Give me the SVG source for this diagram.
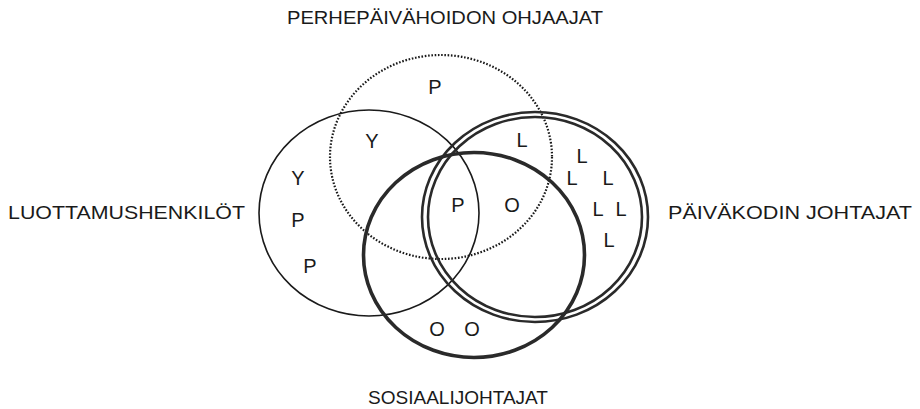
<svg xmlns="http://www.w3.org/2000/svg" width="920" height="409" viewBox="0 0 920 409">
<style>
  text { font-family: "Liberation Sans", Arial, sans-serif; fill: #1a1a1a; }
  .lab { font-size: 18.5px; }
  .m { font-size: 20px; text-anchor: middle; }
  .e { fill: none; stroke: #1a1a1a; }
  .thin { stroke-width: 1.6; }
  .dot { stroke-width: 2.2; stroke-dasharray: 1.6 1.7; }
  .thick { stroke-width: 3.6; stroke: #2a2a2a; }
  .dbl { stroke-width: 2.6; stroke: #2a2a2a; }
</style>
<rect width="920" height="409" fill="#ffffff"/>
<g id="perhepaivahoidon-ohjaajat">
  <ellipse class="e dot" cx="441" cy="157" rx="111" ry="102"/>
  <text class="lab" x="287" y="24" textLength="316" lengthAdjust="spacingAndGlyphs">PERHEPÄIVÄHOIDON OHJAAJAT</text>
  <text class="m" x="435" y="94">P</text>
</g>
<g id="luottamushenkilot">
  <ellipse class="e thin" cx="369" cy="213" rx="110" ry="103"/>
  <text class="lab" x="8" y="219" textLength="237" lengthAdjust="spacingAndGlyphs">LUOTTAMUSHENKILÖT</text>
  <text class="m" x="372" y="148">Y</text>
  <text class="m" x="298" y="185">Y</text>
  <text class="m" x="298" y="227">P</text>
  <text class="m" x="310" y="273">P</text>
</g>
<g id="sosiaalijohtajat">
  <ellipse class="e thick" cx="474" cy="255" rx="110.5" ry="102.5"/>
  <text class="lab" x="368" y="404" textLength="180" lengthAdjust="spacingAndGlyphs">SOSIAALIJOHTAJAT</text>
  <text class="m" x="437" y="336">O</text>
  <text class="m" x="472" y="336">O</text>
</g>
<g id="paivakodin-johtajat">
  <ellipse class="e dbl" cx="535" cy="217" rx="113" ry="105"/>
  <ellipse class="e dbl" cx="535" cy="217" rx="107" ry="100"/>
  <text class="lab" x="668" y="219" textLength="244" lengthAdjust="spacingAndGlyphs">PÄIVÄKODIN JOHTAJAT</text>
  <text class="m" x="522" y="147">L</text>
  <text class="m" x="582" y="163">L</text>
  <text class="m" x="572" y="185">L</text>
  <text class="m" x="608" y="185">L</text>
  <text class="m" x="598" y="216">L</text>
  <text class="m" x="621" y="216">L</text>
  <text class="m" x="609" y="247">L</text>
</g>
<g id="intersections">
  <text class="m" x="458" y="212">P</text>
  <text class="m" x="512" y="212">O</text>
</g>
<g id="connectors"/>
</svg>
